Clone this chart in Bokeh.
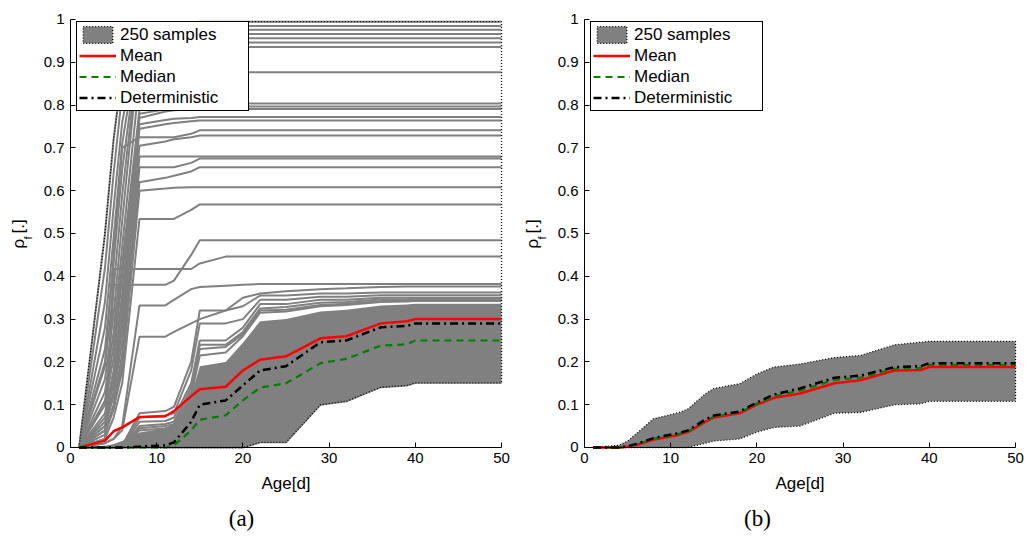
from math import pi
from bokeh.plotting import figure
from bokeh.models import Legend, LegendItem, Label, FixedTicker, NumeralTickFormatter, Range1d
from bokeh.layouts import row
from bokeh.embed import file_html
from bokeh.resources import INLINE

# ---------------- data ----------------
age = [1, 4, 5, 6, 8, 11, 12, 14, 15, 18, 20, 22, 25, 29, 32, 36, 39, 40, 50]
x_ticks = [0, 10, 20, 30, 40, 50]
y_ticks = [0, 0.1, 0.2, 0.3, 0.4, 0.5, 0.6, 0.7, 0.8, 0.9, 1]

# panel (a)
a_mean = [0, 0.016, 0.038, 0.047, 0.071, 0.073, 0.085, 0.120, 0.136, 0.142, 0.180, 0.205, 0.213, 0.255, 0.260, 0.290, 0.295, 0.300, 0.300]
a_median = [0, 0, 0, 0, 0, 0, 0.005, 0.040, 0.065, 0.075, 0.110, 0.140, 0.150, 0.197, 0.207, 0.238, 0.241, 0.250, 0.250]
a_determ = [0, 0, 0, 0, 0.002, 0.005, 0.012, 0.060, 0.100, 0.110, 0.145, 0.180, 0.190, 0.246, 0.250, 0.281, 0.284, 0.290, 0.290]
a_lower = [0, 0, 0, 0, 0, 0, 0, 0, 0, 0, 0, 0.012, 0.012, 0.100, 0.108, 0.141, 0.145, 0.151, 0.151]
a_core_top = [0, 0.004, 0.008, 0.015, 0.035, 0.045, 0.055, 0.120, 0.190, 0.200, 0.245, 0.295, 0.300, 0.318, 0.322, 0.332, 0.334, 0.336, 0.336]

a_s01 = [0, 0.50, 0.72, 0.88, 0.985, 0.986, 0.988, 0.990, 0.995, 0.995, 0.995, 0.995, 0.995, 0.995, 0.995, 0.995, 0.995, 0.995, 0.995]
a_s02 = [0, 0.42, 0.64, 0.83, 0.980, 0.981, 0.982, 0.984, 0.985, 0.985, 0.985, 0.985, 0.985, 0.985, 0.985, 0.985, 0.985, 0.985, 0.985]
a_s03 = [0, 0.34, 0.56, 0.76, 0.972, 0.974, 0.975, 0.976, 0.976, 0.976, 0.976, 0.976, 0.976, 0.976, 0.976, 0.976, 0.976, 0.976, 0.976]
a_s04 = [0, 0.28, 0.49, 0.71, 0.962, 0.964, 0.965, 0.966, 0.966, 0.966, 0.966, 0.966, 0.966, 0.966, 0.966, 0.966, 0.966, 0.966, 0.966]
a_s05 = [0, 0.23, 0.43, 0.65, 0.952, 0.954, 0.955, 0.956, 0.956, 0.956, 0.956, 0.956, 0.956, 0.956, 0.956, 0.956, 0.956, 0.956, 0.956]
a_s06 = [0, 0.19, 0.37, 0.59, 0.942, 0.944, 0.945, 0.946, 0.946, 0.946, 0.946, 0.946, 0.946, 0.946, 0.946, 0.946, 0.946, 0.946, 0.946]
a_s07 = [0, 0.16, 0.31, 0.53, 0.932, 0.934, 0.935, 0.936, 0.936, 0.936, 0.936, 0.936, 0.936, 0.936, 0.936, 0.936, 0.936, 0.936, 0.936]
a_s08 = [0, 0.13, 0.27, 0.47, 0.860, 0.870, 0.873, 0.875, 0.877, 0.877, 0.877, 0.877, 0.877, 0.877, 0.877, 0.877, 0.877, 0.877, 0.877]
a_s09 = [0, 0.11, 0.24, 0.43, 0.790, 0.798, 0.800, 0.802, 0.804, 0.804, 0.804, 0.804, 0.804, 0.804, 0.804, 0.804, 0.804, 0.804, 0.804]
a_s10 = [0, 0.10, 0.21, 0.40, 0.780, 0.790, 0.793, 0.795, 0.797, 0.797, 0.797, 0.797, 0.797, 0.797, 0.797, 0.797, 0.797, 0.797, 0.797]
a_s11 = [0, 0.08, 0.18, 0.36, 0.770, 0.785, 0.788, 0.790, 0.791, 0.791, 0.791, 0.791, 0.791, 0.791, 0.791, 0.791, 0.791, 0.791, 0.791]
a_s12 = [0, 0.07, 0.16, 0.33, 0.755, 0.765, 0.768, 0.770, 0.772, 0.772, 0.772, 0.772, 0.772, 0.772, 0.772, 0.772, 0.772, 0.772, 0.772]
a_s13 = [0, 0.06, 0.15, 0.30, 0.745, 0.755, 0.758, 0.762, 0.764, 0.764, 0.764, 0.764, 0.764, 0.764, 0.764, 0.764, 0.764, 0.764, 0.764]
a_s14 = [0, 0.20, 0.45, 0.70, 0.725, 0.725, 0.725, 0.733, 0.741, 0.741, 0.741, 0.741, 0.741, 0.741, 0.741, 0.741, 0.741, 0.741, 0.741]
a_s15 = [0, 0.05, 0.13, 0.28, 0.705, 0.715, 0.720, 0.725, 0.729, 0.729, 0.729, 0.729, 0.729, 0.729, 0.729, 0.729, 0.729, 0.729, 0.729]
a_s16 = [0, 0.05, 0.12, 0.25, 0.680, 0.680, 0.680, 0.680, 0.680, 0.680, 0.680, 0.680, 0.680, 0.680, 0.680, 0.680, 0.680, 0.680, 0.680]
a_s17 = [0, 0.04, 0.10, 0.22, 0.655, 0.655, 0.655, 0.665, 0.675, 0.675, 0.675, 0.675, 0.675, 0.675, 0.675, 0.675, 0.675, 0.675, 0.675]
a_s18 = [0, 0.04, 0.09, 0.20, 0.620, 0.630, 0.635, 0.645, 0.655, 0.655, 0.655, 0.655, 0.655, 0.655, 0.655, 0.655, 0.655, 0.655, 0.655]
a_s19 = [0, 0.03, 0.09, 0.18, 0.600, 0.605, 0.607, 0.608, 0.608, 0.608, 0.608, 0.608, 0.608, 0.608, 0.608, 0.608, 0.608, 0.608, 0.608]
a_s20 = [0, 0.02, 0.07, 0.15, 0.534, 0.534, 0.534, 0.555, 0.568, 0.568, 0.568, 0.568, 0.568, 0.568, 0.568, 0.568, 0.568, 0.568, 0.568]
a_s21 = [0, 0.02, 0.380, 0.380, 0.380, 0.380, 0.390, 0.450, 0.484, 0.484, 0.484, 0.484, 0.484, 0.484, 0.484, 0.484, 0.484, 0.484, 0.484]
a_s22 = [0, 0.02, 0.417, 0.417, 0.417, 0.417, 0.417, 0.417, 0.430, 0.446, 0.446, 0.446, 0.446, 0.446, 0.446, 0.446, 0.446, 0.446, 0.446]
a_s23 = [0, 0.01, 0.02, 0.05, 0.332, 0.332, 0.345, 0.370, 0.375, 0.378, 0.380, 0.382, 0.382, 0.382, 0.382, 0.382, 0.382, 0.382, 0.382]
a_s24 = [0, 0.01, 0.02, 0.04, 0.259, 0.259, 0.270, 0.290, 0.300, 0.320, 0.350, 0.360, 0.365, 0.370, 0.372, 0.375, 0.376, 0.376, 0.376]
a_f1 = [0, 0, 0, 0.005, 0.080, 0.085, 0.095, 0.200, 0.320, 0.320, 0.330, 0.355, 0.355, 0.360, 0.360, 0.362, 0.362, 0.362, 0.362]
a_f2 = [0, 0, 0, 0.004, 0.070, 0.075, 0.080, 0.180, 0.290, 0.290, 0.300, 0.345, 0.345, 0.352, 0.352, 0.356, 0.356, 0.356, 0.356]
a_f3 = [0, 0, 0, 0.002, 0.060, 0.062, 0.070, 0.150, 0.250, 0.250, 0.280, 0.335, 0.335, 0.345, 0.345, 0.350, 0.350, 0.350, 0.350]
a_f4 = [0, 0, 0, 0, 0.050, 0.055, 0.060, 0.140, 0.240, 0.240, 0.270, 0.325, 0.328, 0.338, 0.340, 0.346, 0.346, 0.348, 0.348]
a_f5 = [0, 0, 0, 0, 0.045, 0.050, 0.055, 0.130, 0.230, 0.235, 0.265, 0.320, 0.322, 0.333, 0.336, 0.342, 0.343, 0.345, 0.345]
a_f6 = [0, 0, 0, 0, 0.040, 0.045, 0.050, 0.120, 0.215, 0.222, 0.260, 0.315, 0.318, 0.330, 0.333, 0.340, 0.341, 0.342, 0.342]
a_samples = [a_s01, a_s02, a_s03, a_s04, a_s05, a_s06, a_s07, a_s08, a_s09, a_s10, a_s11, a_s12,
             a_s13, a_s14, a_s15, a_s16, a_s17, a_s18, a_s19, a_s20, a_s21, a_s22, a_s23, a_s24,
             a_f1, a_f2, a_f3, a_f4, a_f5, a_f6]

# panel (b)
b_upper = [0, 0.005, 0.015, 0.032, 0.067, 0.082, 0.090, 0.125, 0.138, 0.149, 0.172, 0.188, 0.195, 0.210, 0.215, 0.240, 0.246, 0.248, 0.248]
b_lower = [0, 0, 0, 0, 0, 0, 0, 0.010, 0.015, 0.020, 0.036, 0.047, 0.050, 0.080, 0.082, 0.100, 0.102, 0.108, 0.108]
b_mean = [0, 0, 0.002, 0.006, 0.018, 0.030, 0.036, 0.060, 0.070, 0.080, 0.100, 0.116, 0.126, 0.150, 0.157, 0.180, 0.181, 0.188, 0.188]
b_median = [0, 0, 0.002, 0.007, 0.020, 0.032, 0.037, 0.062, 0.072, 0.082, 0.102, 0.120, 0.133, 0.158, 0.163, 0.184, 0.186, 0.193, 0.193]
b_determ = [0, 0, 0.003, 0.008, 0.022, 0.034, 0.040, 0.065, 0.075, 0.084, 0.105, 0.124, 0.138, 0.163, 0.168, 0.188, 0.190, 0.197, 0.197]

labels = ["250 samples", "Mean", "Median", "Deterministic"]

GRAY = "#808080"
FONT = "Liberation Sans"
FIG_H = 532


def base_fig(width, x_start, x_end, caption, cap_x, ylab_x):
    p = figure(width=width, height=FIG_H, min_border=0,
               x_range=Range1d(x_start, x_end), y_range=Range1d(-0.19860, 1.04439),
               output_backend="svg", toolbar_location=None, tools="")
    p.outline_line_color = None
    p.grid.visible = False
    p.background_fill_color = "white"
    p.border_fill_color = "white"
    p.xaxis.ticker = FixedTicker(ticks=x_ticks)
    p.yaxis.ticker = FixedTicker(ticks=y_ticks)
    p.yaxis.formatter = NumeralTickFormatter(format="0.[0]")
    p.xaxis.fixed_location = 0
    p.yaxis.fixed_location = 0
    p.xaxis.bounds = (0, 50)
    p.yaxis.bounds = (0, 1)
    for ax in (p.xaxis, p.yaxis):
        ax.major_tick_in = 5
        ax.major_tick_out = 0
        ax.minor_tick_in = 0
        ax.minor_tick_out = 0
        ax.axis_line_color = "black"
        ax.major_tick_line_color = "black"
        ax.major_label_text_font = FONT
        ax.major_label_text_font_size = "15px"
        ax.major_label_text_color = "black"
    p.xaxis.major_label_standoff = 6
    p.yaxis.major_label_standoff = 6
    p.xaxis.axis_label = "Age[d]"
    p.xaxis.axis_label_text_font = FONT
    p.xaxis.axis_label_text_font_size = "17px"
    p.xaxis.axis_label_text_font_style = "normal"
    p.xaxis.axis_label_text_color = "black"
    p.xaxis.axis_label_standoff = 7
    # y label rho_f[.]
    p.add_layout(Label(x=ylab_x, y=284, x_units="screen", y_units="screen", text="ρ", angle=pi / 2,
                       text_font=FONT, text_font_size="17px", text_align="left", text_baseline="middle",
                       text_color="black"))
    p.add_layout(Label(x=ylab_x + 9, y=293, x_units="screen", y_units="screen", text="f", angle=pi / 2,
                       text_font=FONT, text_font_size="11px", text_align="left", text_baseline="middle",
                       text_color="black"))
    p.add_layout(Label(x=ylab_x, y=299, x_units="screen", y_units="screen", text="[.]", angle=pi / 2,
                       text_font=FONT, text_font_size="17px", text_align="left", text_baseline="middle",
                       text_color="black"))
    p.add_layout(Label(x=cap_x, y=14, x_units="screen", y_units="screen", text=caption,
                       text_font="Liberation Serif", text_font_size="23px", text_align="center",
                       text_baseline="middle", text_color="black"))
    return p


def stat_lines(p, mean, median, determ):
    r_mean = p.line(age, mean, line_color="red", line_width=2.5)
    r_med = p.line(age, median, line_color="green", line_width=2.2, line_dash="7 5")
    r_det = p.line(age, determ, line_color="black", line_width=2.5, line_dash="8 4 2 4")
    return r_mean, r_med, r_det


def add_legend(p, r_band, r_mean, r_med, r_det, lx):
    items = [LegendItem(label=l, renderers=[r]) for l, r in zip(labels, [r_band, r_mean, r_med, r_det])]
    leg = Legend(items=items, location=(lx, 421), margin=0, padding=2, spacing=0,
                 label_height=21, glyph_height=21, glyph_width=37, label_standoff=4, label_width=126,
                 label_text_font=FONT, label_text_font_size="17px", label_text_baseline="middle",
                 label_text_color="black",
                 border_line_color="black", border_line_width=1.5, border_line_alpha=1,
                 background_fill_alpha=1, inactive_fill_alpha=0)
    p.add_layout(leg)


# ---------------- panel (a) ----------------
pa = base_fig(520, -8.1206, 52.204, "(a)", 241, 18)
pa.varea(x=age, y1=a_lower, y2=a_core_top, fill_color=GRAY)
for s in a_samples:
    pa.line(age, s, line_color=GRAY, line_width=2)
pa.line(age, a_lower, line_color=GRAY, line_width=2)
env_x = age + age[::-1]
env_y = a_s01 + a_lower[::-1]
pa.patch(env_x, env_y, fill_alpha=0, line_color="black", line_width=1.3, line_dash="1 2")
band_leg_a = pa.patch(env_x, env_y, fill_color=GRAY, line_color="black", line_width=1.3,
                      line_dash="1 2", visible=False)
ra = stat_lines(pa, a_mean, a_median, a_determ)
add_legend(pa, band_leg_a, *ra, lx=76)

# ---------------- panel (b) ----------------
pb = base_fig(504, -7.4246, 51.044, "(b)", 237, 12)
bx = age + age[::-1]
by = b_upper + b_lower[::-1]
band_b = pb.patch(bx, by, fill_color=GRAY, line_color="black", line_width=1.3, line_dash="1 2")
rb = stat_lines(pb, b_mean, b_median, b_determ)
add_legend(pb, band_b, *rb, lx=70)

layout = row(pa, pb)
open("out.html", "w").write(file_html(layout, INLINE))
